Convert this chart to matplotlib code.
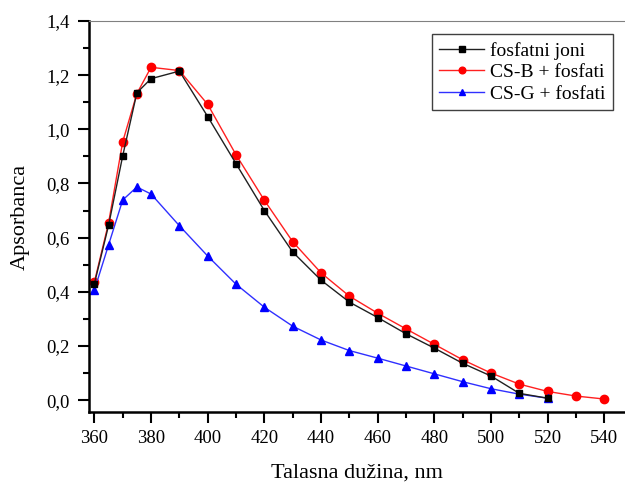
import matplotlib
matplotlib.use("Agg")
import matplotlib.pyplot as plt
from matplotlib.ticker import MultipleLocator, FuncFormatter

wavelength = [360, 365, 370, 375, 380, 390, 400, 410, 420, 430, 440, 450,
              460, 470, 480, 490, 500, 510, 520, 530, 540]

fosfatni_x = wavelength[:19]
fosfatni_y = [0.430, 0.645, 0.902, 1.135, 1.187, 1.215, 1.047, 0.873, 0.700,
              0.547, 0.443, 0.362, 0.305, 0.245, 0.192, 0.136, 0.089, 0.025,
              0.007]

csb_x = wavelength
csb_y = [0.436, 0.654, 0.954, 1.132, 1.229, 1.217, 1.092, 0.906, 0.738,
         0.585, 0.470, 0.384, 0.321, 0.263, 0.206, 0.149, 0.100, 0.059,
         0.032, 0.015, 0.004]

csg_x = wavelength[:19]
csg_y = [0.406, 0.573, 0.739, 0.787, 0.761, 0.644, 0.532, 0.428, 0.343,
         0.273, 0.222, 0.183, 0.155, 0.126, 0.097, 0.068, 0.042, 0.022,
         0.007]

plt.rcParams['font.family'] = ['Liberation Serif', 'DejaVu Serif']

fig = plt.figure(figsize=(6.25, 4.82), dpi=100)
ax = fig.add_axes([89 / 625, 1 - 412.3 / 482, 536 / 625, 391.3 / 482])

ax.plot(fosfatni_x, fosfatni_y, color='#202020', lw=1.0, marker='s',
        ms=5, mfc='black', mec='black', label='fosfatni joni', zorder=3)
ax.plot(csb_x, csb_y, color='#ff2020', lw=1.0, marker='o',
        ms=6, mfc='red', mec='red', label='CS-B + fosfati', zorder=2)
ax.plot(csg_x, csg_y, color='#3030ff', lw=1.0, marker='^',
        ms=6, mfc='blue', mec='blue', label='CS-G + fosfati', zorder=2)

ax.set_xlim(358.1, 547.3)
ax.set_ylim(-0.045, 1.4)

ax.xaxis.set_major_locator(MultipleLocator(20))
ax.xaxis.set_minor_locator(MultipleLocator(10))
ax.yaxis.set_major_locator(MultipleLocator(0.2))
ax.yaxis.set_minor_locator(MultipleLocator(0.1))
ax.yaxis.set_major_formatter(FuncFormatter(lambda v, p: f"{v:.1f}".replace('.', ',')))

ax.tick_params(which='both', direction='out', width=1.5, labelsize=13.5)
ax.tick_params(which='major', length=8)
ax.tick_params(which='minor', length=4.5)
ax.tick_params(axis='y', which='major', pad=6)
ax.tick_params(axis='x', which='major', pad=5)

for s in ('left', 'bottom'):
    ax.spines[s].set_linewidth(1.8)
ax.spines['top'].set_linewidth(0.8)
ax.spines['top'].set_color('#808080')
ax.spines['right'].set_visible(False)

ax.set_xlabel('Talasna dužina, nm', fontsize=16, labelpad=12)
ax.set_ylabel('Apsorbanca', fontsize=16, labelpad=12)

leg = ax.legend(loc='upper right', bbox_to_anchor=(0.985, 0.977),
                fontsize=14, fancybox=False, framealpha=1,
                edgecolor='#404040', handlelength=2.3, borderpad=0.4,
                labelspacing=0.2, handletextpad=0.3, borderaxespad=0.2,
                markerscale=0.8)
leg.get_frame().set_linewidth(1.0)

fig.savefig('out.png', dpi=100)
